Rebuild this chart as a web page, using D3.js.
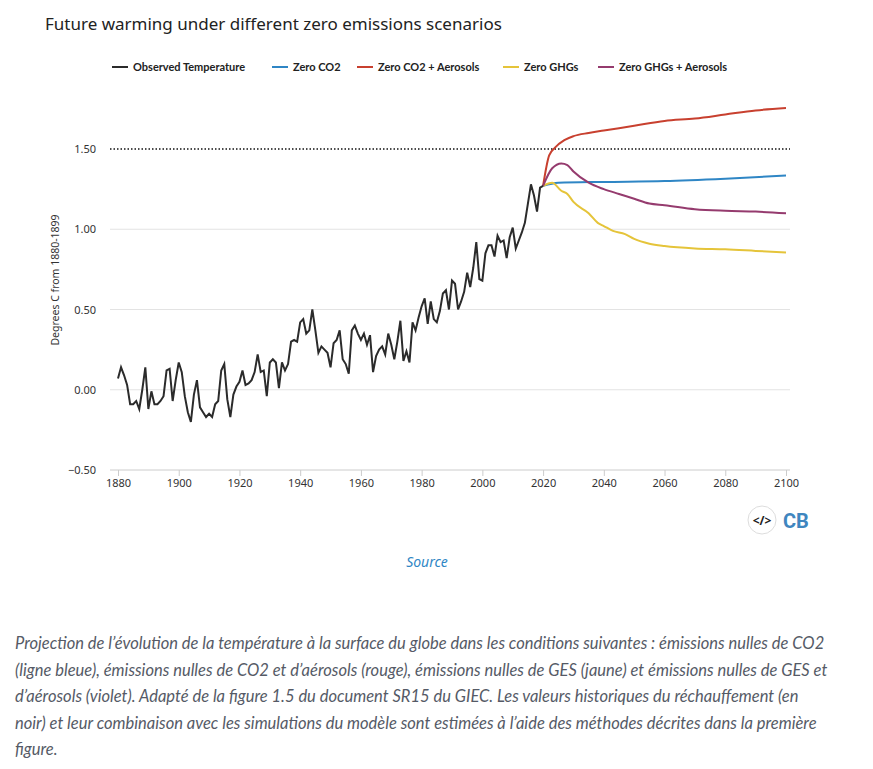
<!DOCTYPE html>
<html><head><meta charset="utf-8">
<script src="https://cdn.jsdelivr.net/npm/d3@7"></script>
<style>
body{margin:0;background:#fff;font-family:"Noto Sans",sans-serif;}
.caption{position:absolute;left:15px;top:630px;width:815px;font-style:italic;color:#555a66;font-size:16.5px;line-height:26.5px;font-family:Lato,sans-serif;}
</style></head><body>
<svg width="873" height="620"></svg>
<div class="caption">Projection de l’évolution de la température à la surface du globe dans les conditions suivantes : émissions nulles de CO2 (ligne bleue), émissions nulles de CO2 et d’aérosols (rouge), émissions nulles de GES (jaune) et émissions nulles de GES et d’aérosols (violet). Adapté de la figure 1.5 du document SR15 du GIEC. Les valeurs historiques du réchauffement (en noir) et leur combinaison avec les simulations du modèle sont estimées à l’aide des méthodes décrites dans la première figure.</div>
<script>
var svg = d3.select('svg');
var padding = {t: 149, l: 110, r: 83, b: 149};

// Observed anomalies, 1880-2020
var observed = [0.07,0.14,0.09,0.03,-0.09,-0.09,-0.07,-0.12,0,0.14,-0.12,-0.01,-0.09,-0.09,-0.07,-0.04,0.12,0.13,-0.07,0.06,
0.17,0.11,-0.04,-0.14,-0.2,-0.03,0.06,-0.11,-0.14,-0.17,-0.15,-0.17,-0.09,-0.07,0.12,0.16,-0.06,-0.17,-0.03,0.02,
0.05,0.12,0.03,0.04,0.06,0.11,0.22,0.11,0.12,-0.04,0.17,0.19,0.17,0.01,0.17,0.12,0.16,0.3,0.31,0.3,
0.42,0.44,0.35,0.37,0.5,0.37,0.23,0.27,0.25,0.23,0.14,0.29,0.31,0.37,0.19,0.16,0.1,0.37,0.4,0.35,
0.31,0.35,0.28,0.34,0.11,0.21,0.25,0.27,0.22,0.35,0.28,0.19,0.3,0.43,0.18,0.24,0.17,0.42,0.37,0.45,
0.52,0.57,0.41,0.55,0.44,0.42,0.49,0.6,0.62,0.5,0.68,0.66,0.5,0.55,0.61,0.73,0.64,0.76,0.92,0.69,
0.68,0.85,0.9,0.9,0.83,0.96,0.92,0.93,0.82,0.95,1.01,0.88,0.93,0.98,1.04,1.16,1.28,1.21,1.11,1.26,1.27]
  .map(function(v, i){ return {year: 1880 + i, value: v}; });

var scenarios = [
  {name: 'Zero CO2', color: '#2f86c5', data: [[2020,1.27],[2025,1.29],[2040,1.295],[2060,1.30],[2080,1.315],[2100,1.335]]},
  {name: 'Zero CO2 + Aerosols', color: '#c8402f', data: [[2020,1.27],[2022,1.46],[2024,1.51],[2027,1.555],[2030,1.58],[2035,1.6],[2040,1.615],[2050,1.645],[2060,1.675],[2070,1.69],[2080,1.715],[2090,1.74],[2100,1.755]]},
  {name: 'Zero GHGs', color: '#e5c43a', data: [[2020,1.27],[2023,1.29],[2026,1.24],[2028,1.22],[2030,1.17],[2035,1.1],[2038,1.04],[2040,1.02],[2043,0.99],[2047,0.97],[2050,0.94],[2055,0.91],[2060,0.895],[2070,0.88],[2080,0.875],[2090,0.865],[2100,0.855]]},
  {name: 'Zero GHGs + Aerosols', color: '#953b6e', data: [[2020,1.27],[2023,1.38],[2026,1.41],[2028,1.4],[2030,1.36],[2035,1.29],[2040,1.25],[2045,1.22],[2050,1.19],[2055,1.16],[2060,1.15],[2070,1.125],[2080,1.115],[2090,1.11],[2100,1.1]]}
];

var xScale = d3.scaleLinear().domain([1880, 2100]).range([118, 786]);
var yScale = d3.scaleLinear().domain([-0.5, 1.5]).range([470, 149]);

// grid
svg.append('g').selectAll('line').data([0, 0.5, 1.0]).enter().append('line')
  .attr('x1', padding.l).attr('x2', 790)
  .attr('y1', function(d){ return yScale(d); }).attr('y2', function(d){ return yScale(d); })
  .attr('stroke', '#e3e3e3');
svg.append('line').attr('x1', padding.l).attr('x2', 790)
  .attr('y1', yScale(1.5)).attr('y2', yScale(1.5))
  .attr('stroke', '#111').attr('stroke-width', 1.5).attr('stroke-dasharray', '1.5,2');

svg.append('g').selectAll('text').data([-0.5, 0, 0.5, 1.0, 1.5]).enter().append('text')
  .attr('x', 96).attr('y', function(d){ return yScale(d) + 4; })
  .attr('text-anchor', 'end').attr('font-size', 11).attr('fill', '#333')
  .text(d3.format('.2f'));

var xAxis = svg.append('g').attr('transform', 'translate(0,470)')
  .call(d3.axisBottom(xScale).tickValues(d3.range(1880, 2101, 20)).tickFormat(d3.format('d')).tickSize(6));
xAxis.select('.domain').attr('d', 'M' + padding.l + ',0H790').attr('stroke', '#ccc');
xAxis.selectAll('.tick line').attr('stroke', '#ccc');
xAxis.selectAll('text').attr('font-size', 11).attr('fill', '#333').attr('font-family', 'Noto Sans');

svg.append('text').attr('transform', 'translate(59,280) rotate(-90)')
  .attr('text-anchor', 'middle').attr('font-size', 10.5).attr('fill', '#333')
  .text('Degrees C from 1880-1899');

var line = d3.line().x(function(d){ return xScale(d[0]); }).y(function(d){ return yScale(d[1]); });

scenarios.forEach(function(s){
  svg.append('path').datum(s.data).attr('d', line.curve(d3.curveMonotoneX))
    .attr('fill', 'none').attr('stroke', s.color).attr('stroke-width', 2);
});
svg.append('path').datum(observed.map(function(d){ return [d.year, d.value]; }))
  .attr('d', line.curve(d3.curveLinear))
  .attr('fill', 'none').attr('stroke', '#2b2b2b').attr('stroke-width', 2);

// title
svg.append('text').attr('x', 45).attr('y', 30).attr('font-size', 17).attr('fill', '#222')
  .text('Future warming under different zero emissions scenarios');

// legend
var legend = [{name: 'Observed Temperature', color: '#2b2b2b', x: 112}].concat(
  scenarios.map(function(s, i){ return {name: s.name, color: s.color, x: [272, 357, 503, 598][i]}; }));
var lg = svg.append('g').selectAll('g').data(legend).enter().append('g')
  .attr('transform', function(d){ return 'translate(' + d.x + ',67)'; });
lg.append('line').attr('x1', 0).attr('x2', 16).attr('stroke', function(d){ return d.color; }).attr('stroke-width', 2);
lg.append('text').attr('x', 21).attr('y', 4).attr('font-size', 11).attr('font-weight', 'bold').attr('fill', '#222')
  .attr('font-family', 'Lato').text(function(d){ return d.name; });

// CB badge
svg.append('circle').attr('cx', 762).attr('cy', 520).attr('r', 14).attr('fill', '#fff').attr('stroke', '#ddd');
svg.append('text').attr('x', 762).attr('y', 525).attr('text-anchor', 'middle').attr('font-size', 12).attr('font-weight', 'bold').attr('fill', '#222').text('</>');
svg.append('text').attr('x', 783).attr('y', 528).attr('font-size', 20).attr('font-weight', 'bold').attr('fill', '#3f86bf')
  .attr('font-family', 'Roboto').text('CB');

svg.append('text').attr('x', 427).attr('y', 567).attr('text-anchor', 'middle').attr('font-size', 14)
  .attr('font-style', 'italic').attr('fill', '#2f86c5').text('Source');
</script></body></html>
